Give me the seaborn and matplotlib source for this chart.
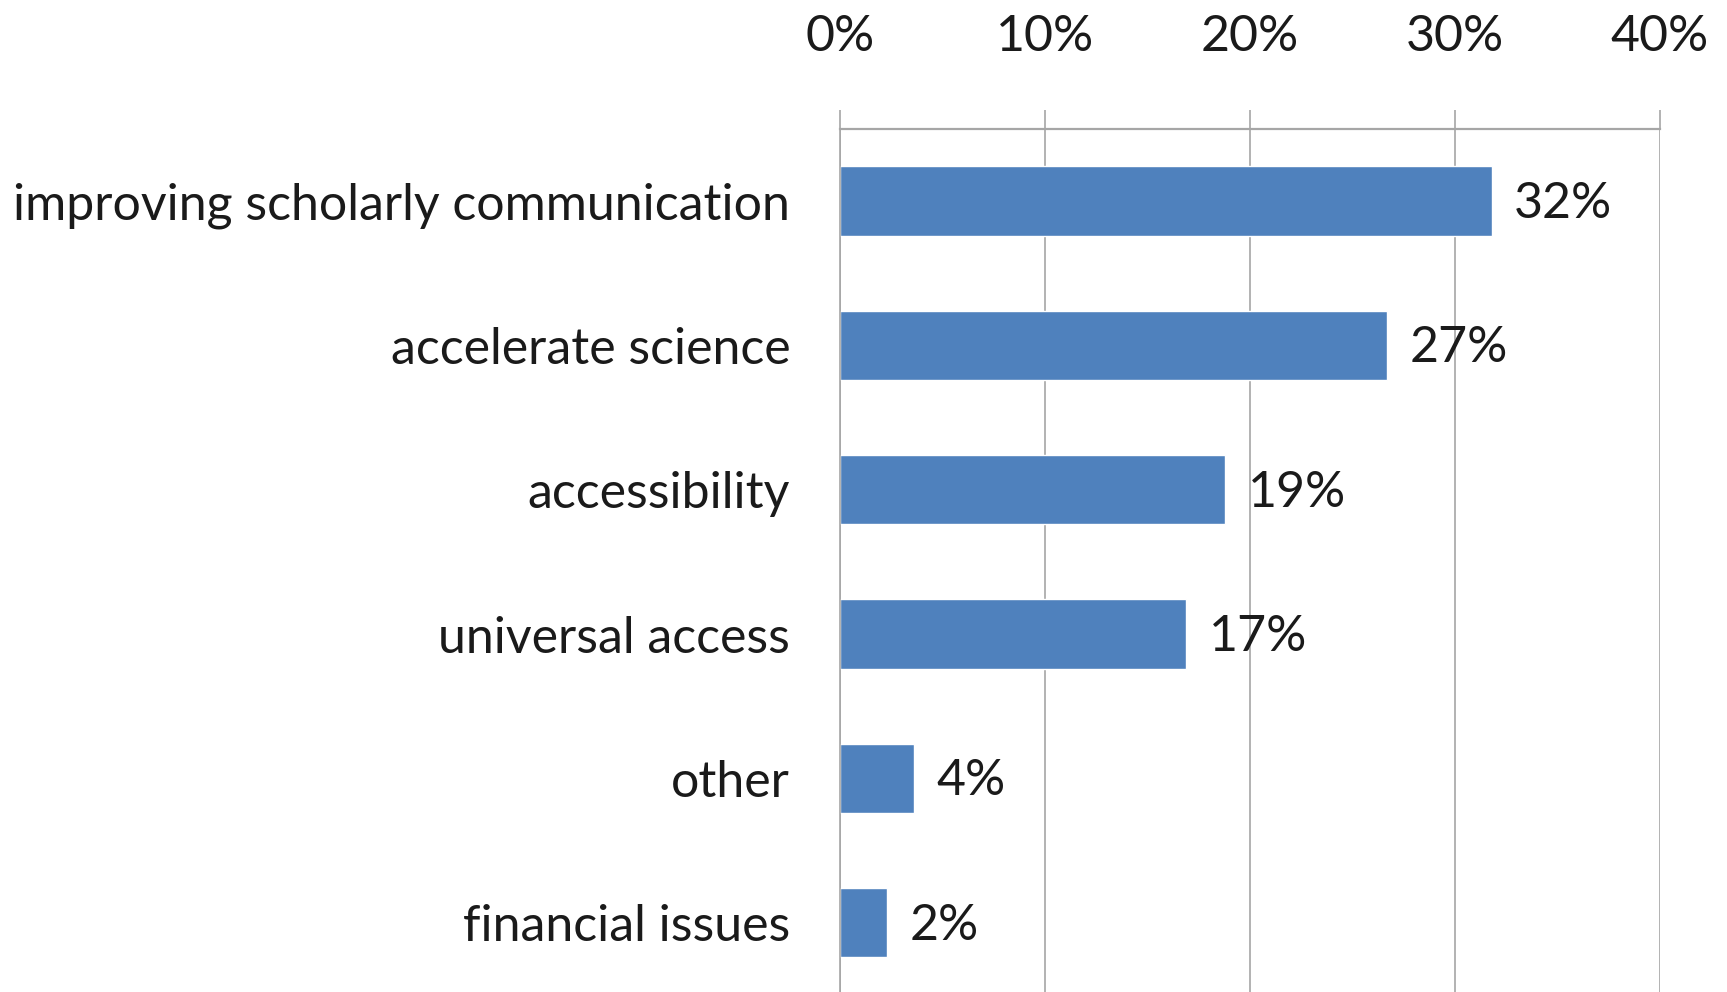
import matplotlib
matplotlib.use('Agg')
import matplotlib.pyplot as plt
import seaborn as sns

# Data
categories = ['improving scholarly communication', 'accelerate science', 'accessibility',
              'universal access', 'other', 'financial issues']
values = [31.8, 26.7, 18.8, 16.9, 3.6, 2.3]
labels = ['32%', '27%', '19%', '17%', '4%', '2%']
xticks = [0, 10, 20, 30, 40]
xtick_labels = ['0%', '10%', '20%', '30%', '40%']

sns.set_style('white')
plt.rcParams['font.family'] = ['Lato', 'DejaVu Sans']

fig = plt.figure(figsize=(17.27, 9.92), dpi=100)
ax = fig.add_axes([0.4865, -0.003, 0.4745, 0.873])

sns.barplot(x=values, y=categories, color='#4F81BD', width=0.48, saturation=1,
            orient='h', ax=ax)

grid_col = '#A6A6A6'
ax.set_xlim(0, 40)
ax.set_ylim(5.5, -0.5)
ax.set_xticks(xticks)
ax.set_xticklabels(xtick_labels)
ax.xaxis.tick_top()
ax.tick_params(axis='x', which='major', length=14, width=1.2, color=grid_col,
               pad=36, labelsize=36, labelcolor='#1a1a1a')
ax.grid(axis='x', color=grid_col, linewidth=1.2)
ax.set_axisbelow(True)

ax.set_yticks(range(len(categories)))
ax.set_yticks([-0.5, 0.5, 1.5, 2.5, 3.5, 4.5], minor=True)
ax.tick_params(axis='y', which='major', length=0, pad=36, labelsize=36,
               labelcolor='#1a1a1a')
ax.tick_params(axis='y', which='minor', length=11, width=1.2, color=grid_col)

for side in ['right', 'bottom']:
    ax.spines[side].set_visible(False)
ax.spines['top'].set_color(grid_col)
ax.spines['top'].set_linewidth(1.6)
ax.spines['left'].set_color(grid_col)
ax.spines['left'].set_linewidth(1.2)
ax.set_xlabel('')
ax.set_ylabel('')

# value labels to the right of each bar
for i, (v, lab) in enumerate(zip(values, labels)):
    ax.text(v + 1.1, i + 0.02, lab, va='center', ha='left', fontsize=36, color='#1a1a1a')

fig.savefig('out.png', dpi=100)
